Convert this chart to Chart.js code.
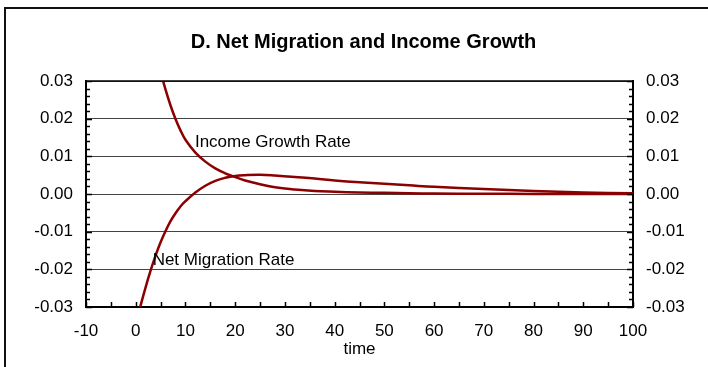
<!DOCTYPE html>
<html>
<head>
<meta charset="utf-8">
<script src="https://cdn.jsdelivr.net/npm/chart.js@4.4.0/dist/chart.umd.min.js"></script>
<style>
  html, body { margin: 0; padding: 0; background: #fff; }
  canvas { display: block; }
</style>
</head>
<body>
<canvas id="chart" width="708" height="367"></canvas>
<script>
/* ===== DATA ===== */
const timePoints = [0, 1, 2, 3, 4, 5, 6, 7, 8, 9, 10, 12, 14, 16, 18, 20, 22, 25, 28, 32, 36, 40, 45, 50, 55, 60, 70, 80, 90, 100];
const incomeGrowth = [null, null, null, 0.045, 0.038, 0.0325, 0.0277, 0.0235, 0.0199, 0.0169, 0.0144, 0.0110, 0.0086, 0.0068, 0.0055, 0.0045, 0.0036, 0.0026, 0.0018, 0.0012, 0.0008, 0.0006, 0.0004, 0.0003, 0.0002, 0.0001, 0.00005, 0.00003, 0.00002, 0.00001];
const netMigration = [-0.0345, -0.0295, -0.0247, -0.0203, -0.0163, -0.0128, -0.0098, -0.0072, -0.0051, -0.0033, -0.0019, 0.0004, 0.0022, 0.0035, 0.0043, 0.0048, 0.0050, 0.0051, 0.0049, 0.0045, 0.0041, 0.0036, 0.0031, 0.0027, 0.0023, 0.0019, 0.0013, 0.0008, 0.0004, 0.0002];
const seriesNames = ['Income Growth Rate', 'Net Migration Rate'];
// where the in-plot labels sit (data coords: time, rate)
const labelTimes = [11.9, 3.4];
const labelRates = [0.0138, -0.0175];

const FONT = 'Liberation Sans, Arial, sans-serif';
const LINE = '#8b0000';

const toPoints = (ys) => timePoints.map((t, i) => ({ x: t, y: ys[i] }));

/* ===== PLUGINS ===== */
const frame = {
  id: 'frame',
  beforeDraw(chart) {
    const { ctx } = chart;
    ctx.save();
    ctx.fillStyle = '#fff';
    ctx.fillRect(0, 0, chart.width, chart.height);
    ctx.strokeStyle = '#111';
    ctx.lineWidth = 2;
    ctx.beginPath();
    ctx.moveTo(5, chart.height);
    ctx.lineTo(5, 8);
    ctx.lineTo(chart.width, 8);
    ctx.stroke();
    ctx.restore();
  }
};

const innerTicks = {
  id: 'innerTicks',
  afterDatasetsDraw(chart) {
    const { ctx, chartArea: a, scales: { x, y } } = chart;
    ctx.save();
    ctx.strokeStyle = '#000';
    ctx.lineWidth = 1.5;
    ctx.beginPath();
    // top edge of the plot box
    ctx.moveTo(a.left, a.top); ctx.lineTo(a.right, a.top);
    for (let k = -15; k <= 15; k++) {
      const py = Math.round(y.getPixelForValue(k * 0.002)) + 0.5;
      const len = k % 5 === 0 ? 6 : 4;
      ctx.moveTo(a.left, py); ctx.lineTo(a.left + len, py);
      ctx.moveTo(a.right, py); ctx.lineTo(a.right - len, py);
    }
    for (let t = -10; t <= 100; t += 5) {
      const px = Math.round(x.getPixelForValue(t)) + 0.5;
      ctx.moveTo(px, a.bottom); ctx.lineTo(px, a.bottom - 5);
    }
    ctx.stroke();

    ctx.fillStyle = '#000';
    ctx.font = '17px ' + FONT;
    ctx.textAlign = 'left';
    ctx.textBaseline = 'middle';
    seriesNames.forEach((name, i) => {
      ctx.fillText(name, x.getPixelForValue(labelTimes[i]), y.getPixelForValue(labelRates[i]));
    });
    ctx.restore();
  }
};

/* ===== CHART ===== */
const tickFont = { family: FONT, size: 17 };

new Chart(document.getElementById('chart'), {
  type: 'line',
  data: {
    datasets: [
      { label: seriesNames[0], data: toPoints(incomeGrowth), borderColor: LINE, borderWidth: 2.5, pointRadius: 0, tension: 0.4, yAxisID: 'y' },
      { label: seriesNames[1], data: toPoints(netMigration), borderColor: LINE, borderWidth: 2.5, pointRadius: 0, tension: 0.4, yAxisID: 'y' }
    ]
  },
  options: {
    responsive: false,
    animation: false,
    layout: { padding: { left: 19, right: 0, top: 0, bottom: 0 } },
    plugins: {
      legend: { display: false },
      tooltip: { enabled: false },
      title: {
        display: true,
        text: 'D. Net Migration and Income Growth',
        color: '#000',
        font: { family: FONT, size: 20, weight: 'bold' },
        padding: { top: 30, bottom: 27 }
      }
    },
    scales: {
      x: {
        type: 'linear', min: -10, max: 100,
        afterFit: (s) => { s.height = 60; },
        grid: { display: false, drawTicks: false },
        border: { display: true, color: '#000', width: 2 },
        ticks: { stepSize: 10, font: tickFont, color: '#000', padding: 14 },
        title: { display: true, text: 'time', color: '#000', font: { family: FONT, size: 17 }, padding: { top: 0, bottom: 7 } }
      },
      y: {
        position: 'left', min: -0.03, max: 0.03,
        afterFit: (s) => { s.width = 86 - 19; },
        grid: { color: '#444', lineWidth: 1, drawTicks: false },
        border: { display: true, color: '#000', width: 2 },
        ticks: { stepSize: 0.01, font: tickFont, color: '#000', padding: 13, callback: (v) => v.toFixed(2) }
      },
      y2: {
        position: 'right', min: -0.03, max: 0.03,
        afterFit: (s) => { s.width = 708 - 633; },
        grid: { display: false, drawTicks: false },
        border: { display: true, color: '#000', width: 2 },
        ticks: { stepSize: 0.01, font: tickFont, color: '#000', padding: 13, callback: (v) => v.toFixed(2) }
      }
    }
  },
  plugins: [frame, innerTicks]
});
</script>
</body>
</html>
